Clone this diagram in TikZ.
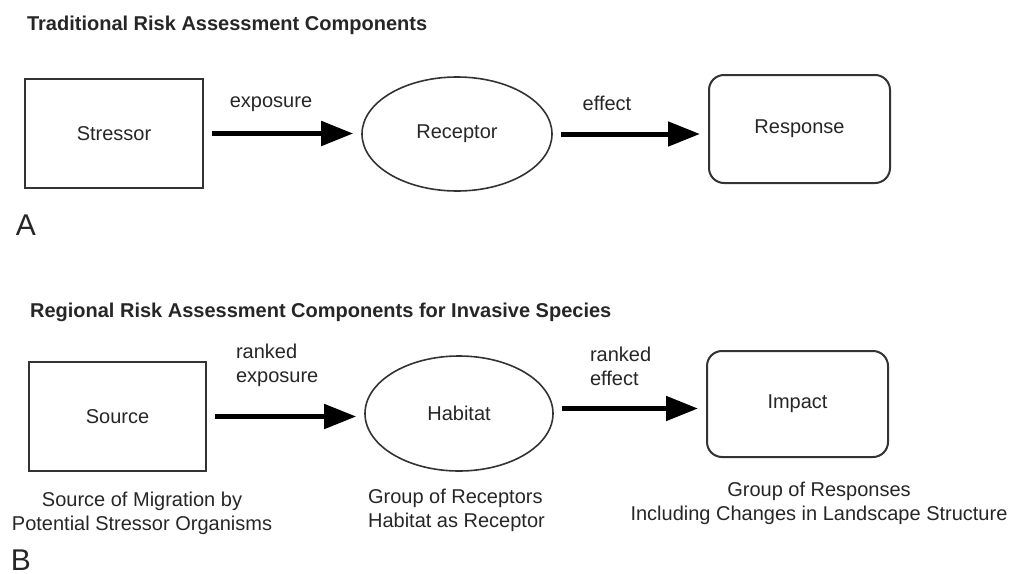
\documentclass[tikz,border=0pt]{standalone}
\usepackage{fontspec}
\setmainfont{Liberation Sans}
\usetikzlibrary{arrows.meta,shapes.geometric}

\begin{document}
\begin{tikzpicture}[x=0.5pt,y=-0.5pt,
    every node/.style={text=black!85,font=\fontsize{10}{12}\selectfont},
    box/.style={draw=black!80,line width=1pt,inner sep=0pt},
    flow/.style={line width=2.5pt,-{Triangle[length=16pt,width=12pt]},shorten <=4pt,shorten >=4pt}]
    \useasboundingbox (0,0) rectangle (1011,573);
    % A: traditional
    \node[anchor=west,font=\fontsize{10}{12}\selectfont\bfseries] (titleA) at (20,25) {Traditional Risk Assessment Components};
    \node[box,minimum width=89pt,minimum height=54.5pt] (stressor) at (114,133.5) {Stressor};
    \node[box,ellipse,line width=0.8pt,minimum width=95pt,minimum height=57pt] (receptor) at (457,134) {Receptor};
    \node[box,rounded corners=7.5pt,minimum width=90.5pt,minimum height=54pt] (response) at (799.5,129) {Response};
    \draw[flow] (stressor.east) -- (stressor.east -| receptor.west);
    \draw[flow] (receptor.east) -- (receptor.east -| response.west);
    \node (exposure) at (271,104) {exposure};
    \node (effect) at (607,103) {effect};
    \node[font=\fontsize{15}{18}\selectfont] (labelA) at (26,225) {A};
    % B: regional
    \node[anchor=west,font=\fontsize{10}{12}\selectfont\bfseries] (titleB) at (23,312) {Regional Risk Assessment Components for Invasive Species};
    \node[box,minimum width=88.5pt,minimum height=54.5pt] (source) at (117.5,416.5) {Source};
    \node[box,ellipse,line width=0.8pt,minimum width=94pt,minimum height=57.5pt] (habitat) at (459,413.5) {Habitat};
    \node[box,rounded corners=7.5pt,minimum width=90.5pt,minimum height=53pt] (impact) at (797.5,404) {Impact};
    \draw[flow] (source.east) -- (source.east -| habitat.west);
    \draw[flow] ([yshift=2.5pt]habitat.east) -- ([yshift=2.5pt]habitat.east -| impact.west);
    \node[anchor=west,align=left] (rankexp) at (229,365.5) {ranked\\exposure};
    \node[anchor=west,align=left] (rankeff) at (583,366.5) {ranked\\effect};
    \node[align=center] (capsource) at (142,513) {Source of Migration by\\Potential Stressor Organisms};
    \node[anchor=west,align=left] (caphabitat) at (361,510.5) {Group of Receptors\\Habitat as Receptor};
    \node[align=center] (capimpact) at (819,503) {Group of Responses\\Including Changes in Landscape Structure};
    \node[font=\fontsize{15}{18}\selectfont] (labelB) at (21,560) {B};
  \end{tikzpicture}
\end{document}
